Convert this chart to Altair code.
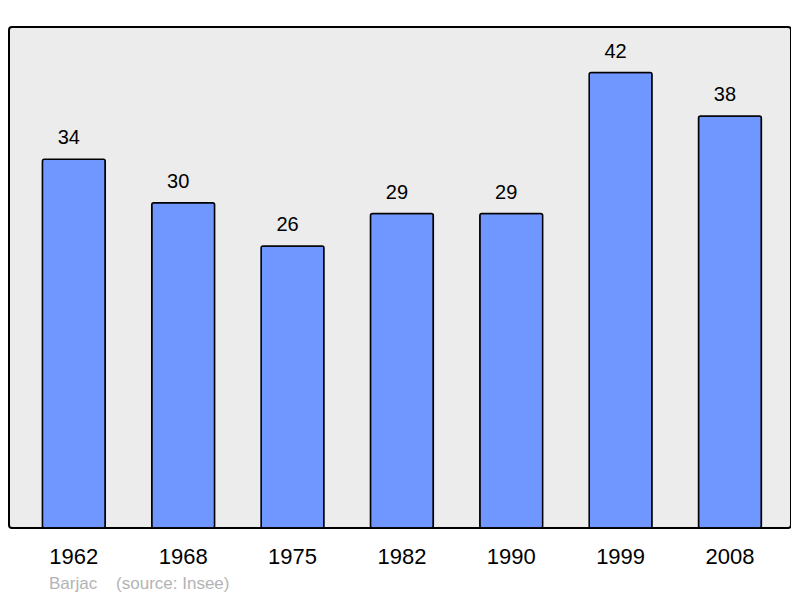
import altair as alt
import pandas as pd

years = ["1962", "1968", "1975", "1982", "1990", "1999", "2008"]
values = [34, 30, 26, 29, 29, 42, 38]
caption = "Barjac\u00a0\u00a0\u00a0\u00a0(source: Insee)"

df = pd.DataFrame({"year": years, "value": values})

base = alt.Chart(df).encode(
    x=alt.X(
        "year:N",
        sort=years,
        scale=alt.Scale(paddingInner=0.425, paddingOuter=0.288, align=0.53),
        axis=alt.Axis(
            title=None,
            labelAngle=0,
            labelFontSize=22,
            labelFont="Liberation Sans",
            labelColor="#000000",
            labelPadding=18,
            ticks=False,
            domain=False,
            grid=False,
        ),
    ),
    y=alt.Y(
        "value:Q",
        scale=alt.Scale(domain=[0, 46.2], nice=False, zero=True),
        axis=None,
    ),
)

bars = base.mark_bar(
    color="#7096ff",
    stroke="#000000",
    strokeWidth=1.5,
    cornerRadius=2,
)

labels = base.mark_text(
    baseline="alphabetic",
    dy=-15,
    dx=-5,
    fontSize=20,
    font="Liberation Sans",
    color="#000000",
).encode(text="value:Q")

chart = (
    alt.layer(bars, labels)
    .properties(
        width=782,
        height=501,
        autosize=alt.AutoSizeParams(type="none"),
        padding={"left": 1, "top": 19, "right": 0, "bottom": 70},
        background="#ffffff",
        title=alt.TitleParams(
            text=caption,
            orient="bottom",
            anchor="start",
            dx=40,
            offset=9,
            fontSize=17,
            font="Liberation Sans",
            fontWeight="normal",
            color="#b3b3b3",
        ),
    )
    .configure_view(
        fill="#ececec",
        stroke="#000000",
        strokeWidth=2,
        cornerRadius=3,
    )
)

chart.save("out.html", embed_options={"renderer": "svg", "actions": False})
